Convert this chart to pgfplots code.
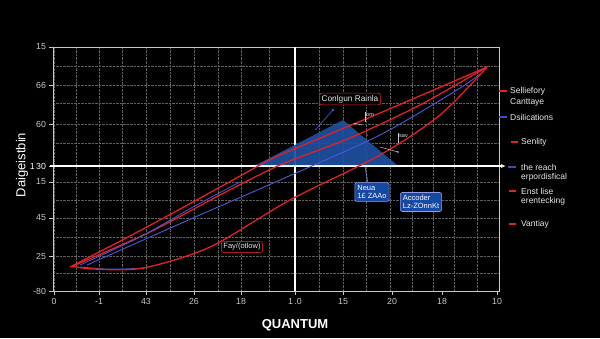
\documentclass[border=0pt]{standalone}
\usepackage{pgfplots}
\pgfplotsset{compat=1.18}
\usepackage{fontspec}
\setmainfont{Liberation Sans}
\usetikzlibrary{arrows.meta}
\definecolor{cred}{RGB}{225,32,40}
\definecolor{cdred}{RGB}{170,30,35}
\definecolor{cblue}{RGB}{75,90,215}
\definecolor{cgrid}{RGB}{95,95,95}
\definecolor{ctick}{RGB}{200,200,200}
\definecolor{cfill}{RGB}{30,80,160}
\definecolor{cbox}{RGB}{22,72,165}
\definecolor{ctxt}{RGB}{232,232,232}
\definecolor{clegblue}{RGB}{60,75,190}
\begin{document}
\begin{tikzpicture}
\useasboundingbox (0,0) rectangle (600pt,338pt);
\fill[black] (0,0) rectangle (600pt,338pt);
\begin{axis}[
 at={(53pt,47pt)}, anchor=south west,
 scale only axis, width=446pt, height=244pt,
 xmin=53, xmax=499, ymin=47, ymax=291,
 axis line style={ctick, line width=0.8pt},
 xtick={54,99,146,194,241,295,343,392,442,497},
 xticklabels={0,-1,43,26,18,{1\,.0},15,20,18,10},
 ytick={47,82,120,156,172,214,253,291},
 yticklabels={-80,25,45,15,\textcolor{white}{1\,30},60,66,15},
 minor xtick={54,76,99,122,146,170,194,218,241,269,319,343,366,390,412,433,454,477},
 minor ytick={65,82,101,120,138,156,195,214,235,253,272},
 xmajorgrids=false, ymajorgrids=false,
 xminorgrids=true, yminorgrids=true,
 minor grid style={cgrid, dash pattern=on 2.5pt off 1pt, line width=0.6pt},
 tick style={ctick, line width=0.6pt},
 major tick length=3.5pt, minor tick length=0pt,
 tick align=outside, tick pos=left,
 ticklabel style={font=\fontsize{8.8}{10}\selectfont, text=ctick},
 /pgf/number format/assume math mode=true,
 clip=false,
]
% white reference lines
\draw[white, line width=1.4pt] (axis cs:295,47) -- (axis cs:295,291);
\draw[white, line width=1.4pt, -{Latex[length=5pt,width=4pt]}] (axis cs:50,172) -- (axis cs:506,172);

% blue filled triangle
\addplot[fill=cfill, fill opacity=0.92, draw=none] coordinates {(256,173) (343,218) (397,173)} -- cycle;

% curves
\addplot[cred, line width=1.3pt, smooth, tension=0.45] coordinates {(70,71) (130,102) (193,136) (260,173) (280,183) (380,225) (487,271)};
\addplot[cred, line width=1.3pt, smooth, tension=0.45] coordinates {(73,72) (150,106) (220,143) (280,173) (350,200) (420,233) (487,271)};
\addplot[cblue, line width=0.8pt, smooth, tension=0.45] coordinates {(80,73) (140,101) (193,131) (240,156)};
\addplot[cblue, line width=0.9pt, smooth, tension=0.45] coordinates {(87,73) (193,120) (280,158) (380,203) (457,248) (480,264)};
\addplot[cblue, line width=0.9pt, smooth, tension=0.5] coordinates {(80,71) (105,69) (125,69) (145,70)};
\addplot[cred, line width=1.3pt, smooth, tension=0.5] coordinates {(72,72) (93,69) (143,70) (210,91) (290,138) (380,183) (440,223) (487,271)};

% annotations
\node[draw=cred, fill=black, rounded corners=2pt, line width=0.7pt, text=ctxt, font=\fontsize{8.3}{9}\selectfont, inner sep=2pt] at (axis cs:350,239) {Conlgun Rainla};
\node[draw=cdred, fill=black, rounded corners=2pt, line width=0.7pt, text=ctxt, font=\fontsize{7.5}{8}\selectfont, inner sep=2pt] at (axis cs:242,91) {Fay/(otlow)};
\draw[cblue, line width=0.6pt] (axis cs:315,208) -- (axis cs:333,228);
\fill[cblue] (axis cs:333,228) circle (1.3pt);
\draw[cblue!70, line width=0.6pt] (axis cs:365,171) -- (axis cs:368,155);
\draw[ctick, line width=0.5pt] (axis cs:365,216) -- (axis cs:365,226);
\node[anchor=west, text=ctxt, font=\fontsize{5.5}{6}\selectfont, inner sep=1pt] at (axis cs:365,223) {om};
\draw[ctick, line width=0.5pt] (axis cs:353,215) -- (axis cs:362,213);
\draw[ctick, line width=0.5pt] (axis cs:398,195) -- (axis cs:398,205);
\node[anchor=west, text=ctxt, font=\fontsize{5.5}{6}\selectfont, inner sep=1pt] at (axis cs:398,202) {sav};
\draw[ctick, line width=0.5pt] (axis cs:380,191) -- (axis cs:398,186);
\fill[ctick] (axis cs:398,186) circle (0.9pt);
\fill[cred] (axis cs:367,203) circle (1pt);
\node[draw=cblue!60, fill=cbox, rounded corners=2pt, line width=0.6pt, text=white, font=\fontsize{7.5}{8.5}\selectfont, align=left, inner sep=2.5pt] at (axis cs:372,146) {Neua\\1£ ZAAo};
\node[draw=cblue!60, fill=cbox, rounded corners=2pt, line width=0.6pt, text=white, font=\fontsize{7.5}{8.5}\selectfont, align=left, inner sep=2.5pt] at (axis cs:421,136) {Accoder\\Lz-ZOnnKt};
\end{axis}

% axis labels
\node[text=white, font=\bfseries\fontsize{13}{14}\selectfont] at (295pt,13pt) {QUANTUM};
\node[text=white, rotate=90, font=\fontsize{13}{14}\selectfont] at (22pt,173pt) {Daigeistbin};

% legend
\begin{scope}[every node/.style={anchor=west, text=ctxt, font=\fontsize{8.5}{10}\selectfont, inner sep=0pt}]
\draw[cred, line width=1.5pt] (499pt,247pt) -- (507pt,247pt);
\node at (510pt,247pt) {Selliefory};
\node at (510pt,236pt) {Canttaye};
\draw[clegblue, line width=1.5pt] (499pt,221pt) -- (507pt,221pt);
\node at (510pt,221pt) {Dsilications};
\draw[cred, line width=1.5pt] (511pt,196pt) -- (518pt,196pt);
\node at (521pt,196pt) {Senlity};
\draw[clegblue, line width=1.5pt] (508pt,171pt) -- (516pt,171pt);
\node at (521pt,171pt) {the reach};
\node at (521pt,161pt) {erpordisfical};
\draw[cred, line width=1.5pt] (509pt,147pt) -- (516pt,147pt);
\node at (521pt,147pt) {Enst lise};
\node at (521pt,137pt) {erentecking};
\draw[cred, line width=1.5pt] (509pt,114pt) -- (516pt,114pt);
\node at (521pt,114pt) {Vantiay};
\end{scope}
\end{tikzpicture}
\end{document}
